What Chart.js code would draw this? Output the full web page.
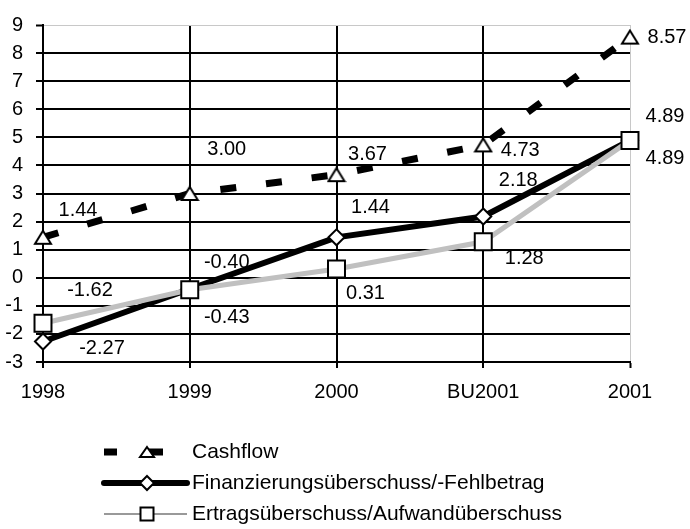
<!DOCTYPE html>
<html>
<head>
<meta charset="utf-8">
<script src="https://cdn.jsdelivr.net/npm/chart.js@4"></script>
<style>
  body { margin: 0; background: #fff; }
  canvas { display: block; }
</style>
</head>
<body>
<canvas id="lineChart" width="690" height="529"></canvas>
<script>
const categories = ['1998', '1999', '2000', 'BU2001', '2001'];
const cashflow = [1.44, 3.00, 3.67, 4.73, 8.57];
const finanzierung = [-2.27, -0.40, 1.44, 2.18, 4.89];
const ertrag = [-1.62, -0.43, 0.31, 1.28, 4.89];
const seriesNames = ['Cashflow', 'Finanzierungsüberschuss/-Fehlbetrag', 'Ertragsüberschuss/Aufwandüberschuss'];
const yMin = -3, yMax = 9;

// label offsets (px) from each point, per series
const labelOffsets = [
    [[35, -27], [37, -44], [31, -20], [37, 6], [37, 0]],
    [[59, 7], [37, -26], [34, -30], [35, -36], [35, -24]],
    [[47, -33], [37, 28], [29, 24], [41, 17], [35, 18]]
];

const FAMILY = '"Liberation Sans", Arial, sans-serif';
const FONT = '20px ' + FAMILY;
const LEGEND_FONT = '21px ' + FAMILY;

// Excel-like triangle marker (wider than tall)
function makeTriangle(w, h) {
    const c = document.createElement('canvas');
    c.width = w + 4; c.height = h + 4;
    const g = c.getContext('2d');
    g.beginPath();
    g.moveTo(c.width / 2, 2);
    g.lineTo(c.width - 2, c.height - 2);
    g.lineTo(2, c.height - 2);
    g.closePath();
    g.fillStyle = '#fff';
    g.fill();
    g.lineWidth = 2;
    g.strokeStyle = '#000';
    g.stroke();
    return c;
}
const triangleImg = makeTriangle(16, 13);
const triangleLegend = makeTriangle(14, 10);

const valueLabels = {
    id: 'valueLabels',
    afterDatasetsDraw(chart) {
        const ctx = chart.ctx;
        ctx.save();
        ctx.font = FONT;
        ctx.fillStyle = '#000';
        ctx.textAlign = 'center';
        ctx.textBaseline = 'middle';
        chart.data.datasets.forEach((ds, i) => {
            const meta = chart.getDatasetMeta(i);
            meta.data.forEach((pt, j) => {
                const off = labelOffsets[i][j];
                ctx.fillText(ds.data[j].toFixed(2), pt.x + off[0], pt.y + off[1]);
            });
        });
        ctx.restore();
    }
};

function marker(ctx, type, x, y, r) {
    ctx.beginPath();
    if (type === 'diamond') {
        ctx.moveTo(x, y - r);
        ctx.lineTo(x + r, y);
        ctx.lineTo(x, y + r);
        ctx.lineTo(x - r, y);
        ctx.closePath();
    } else {
        ctx.rect(x - r, y - r, 2 * r, 2 * r);
    }
    ctx.fillStyle = '#fff';
    ctx.fill();
    ctx.lineWidth = 2;
    ctx.strokeStyle = '#000';
    ctx.stroke();
}

const customLegend = {
    id: 'customLegend',
    afterDraw(chart) {
        const ctx = chart.ctx;
        const x0 = 104, x1 = 187, mx = 147, tx = 192;
        const rows = [452, 483, 514];
        ctx.save();
        // Cashflow
        ctx.lineCap = 'butt';
        ctx.strokeStyle = '#000';
        ctx.lineWidth = 7;
        ctx.beginPath();
        ctx.moveTo(x0, rows[0]); ctx.lineTo(117, rows[0]);
        ctx.moveTo(mx, rows[0]); ctx.lineTo(163, rows[0]);
        ctx.stroke();
        ctx.drawImage(triangleLegend, mx - triangleLegend.width / 2, rows[0] - triangleLegend.height / 2);
        // Finanzierung
        ctx.lineCap = 'round';
        ctx.lineWidth = 6;
        ctx.strokeStyle = '#000';
        ctx.beginPath();
        ctx.moveTo(x0, rows[1]); ctx.lineTo(x1, rows[1]);
        ctx.stroke();
        marker(ctx, 'diamond', mx, rows[1], 7);
        // Ertrag
        ctx.lineCap = 'butt';
        ctx.lineWidth = 2;
        ctx.strokeStyle = '#999';
        ctx.beginPath();
        ctx.moveTo(x0, rows[2]); ctx.lineTo(x1, rows[2]);
        ctx.stroke();
        marker(ctx, 'square', mx, rows[2], 6.5);

        ctx.font = LEGEND_FONT;
        ctx.fillStyle = '#000';
        ctx.textAlign = 'left';
        ctx.textBaseline = 'middle';
        seriesNames.forEach((n, i) => ctx.fillText(n, tx, rows[i]));
        ctx.restore();
    }
};

const ctx = document.getElementById('lineChart').getContext('2d');
const lineChart = new Chart(ctx, {
    type: 'line',
    data: {
        labels: categories,
        datasets: [{
            label: seriesNames[0],
            data: cashflow,
            borderColor: '#000',
            borderWidth: 7,
            borderDash: [16, 30],
            pointStyle: triangleImg,
            pointRadius: 9,
            order: 2
        }, {
            label: seriesNames[1],
            data: finanzierung,
            borderColor: '#000',
            borderWidth: 6,
            pointStyle: 'rectRot',
            pointRadius: 8,
            pointBorderWidth: 2,
            pointBorderColor: '#000',
            pointBackgroundColor: '#fff',
            order: 1
        }, {
            label: seriesNames[2],
            data: ertrag,
            borderColor: '#c0c0c0',
            borderWidth: 5,
            pointStyle: 'rect',
            pointRadius: 12,
            pointBorderWidth: 2,
            pointBorderColor: '#000',
            pointBackgroundColor: '#fff',
            order: 0
        }]
    },
    options: {
        responsive: false,
        animation: false,
        devicePixelRatio: 1,
        layout: { padding: { top: 20, right: 60, left: 0, bottom: 0 } },
        plugins: {
            legend: { display: false },
            tooltip: { enabled: false }
        },
        scales: {
            x: {
                offset: false,
                afterFit: (scale) => { scale.height = 167; },
                border: { color: '#000', width: 2 },
                grid: {
                    color: (c) => c.index === categories.length - 1 ? '#c8c8c8' : '#000',
                    lineWidth: (c) => c.index === categories.length - 1 ? 1 : 2,
                    tickColor: '#000',
                    tickWidth: 2,
                    tickLength: 6
                },
                ticks: {
                    color: '#000',
                    font: { family: FAMILY, size: 20 },
                    padding: 12,
                    maxRotation: 0,
                    autoSkip: false
                }
            },
            y: {
                min: yMin,
                max: yMax,
                afterFit: (scale) => { scale.width = 43; },
                border: { color: '#000', width: 2 },
                grid: {
                    color: (c) => c.tick && c.tick.value === yMax ? '#c8c8c8' : '#000',
                    lineWidth: (c) => c.tick && c.tick.value === yMax ? 1 : 2,
                    tickColor: '#000',
                    tickWidth: 2,
                    tickLength: 7
                },
                ticks: {
                    stepSize: 1,
                    color: '#000',
                    font: { family: FAMILY, size: 20 },
                    padding: 13
                }
            }
        }
    },
    plugins: [valueLabels, customLegend]
});
</script>
</body>
</html>
